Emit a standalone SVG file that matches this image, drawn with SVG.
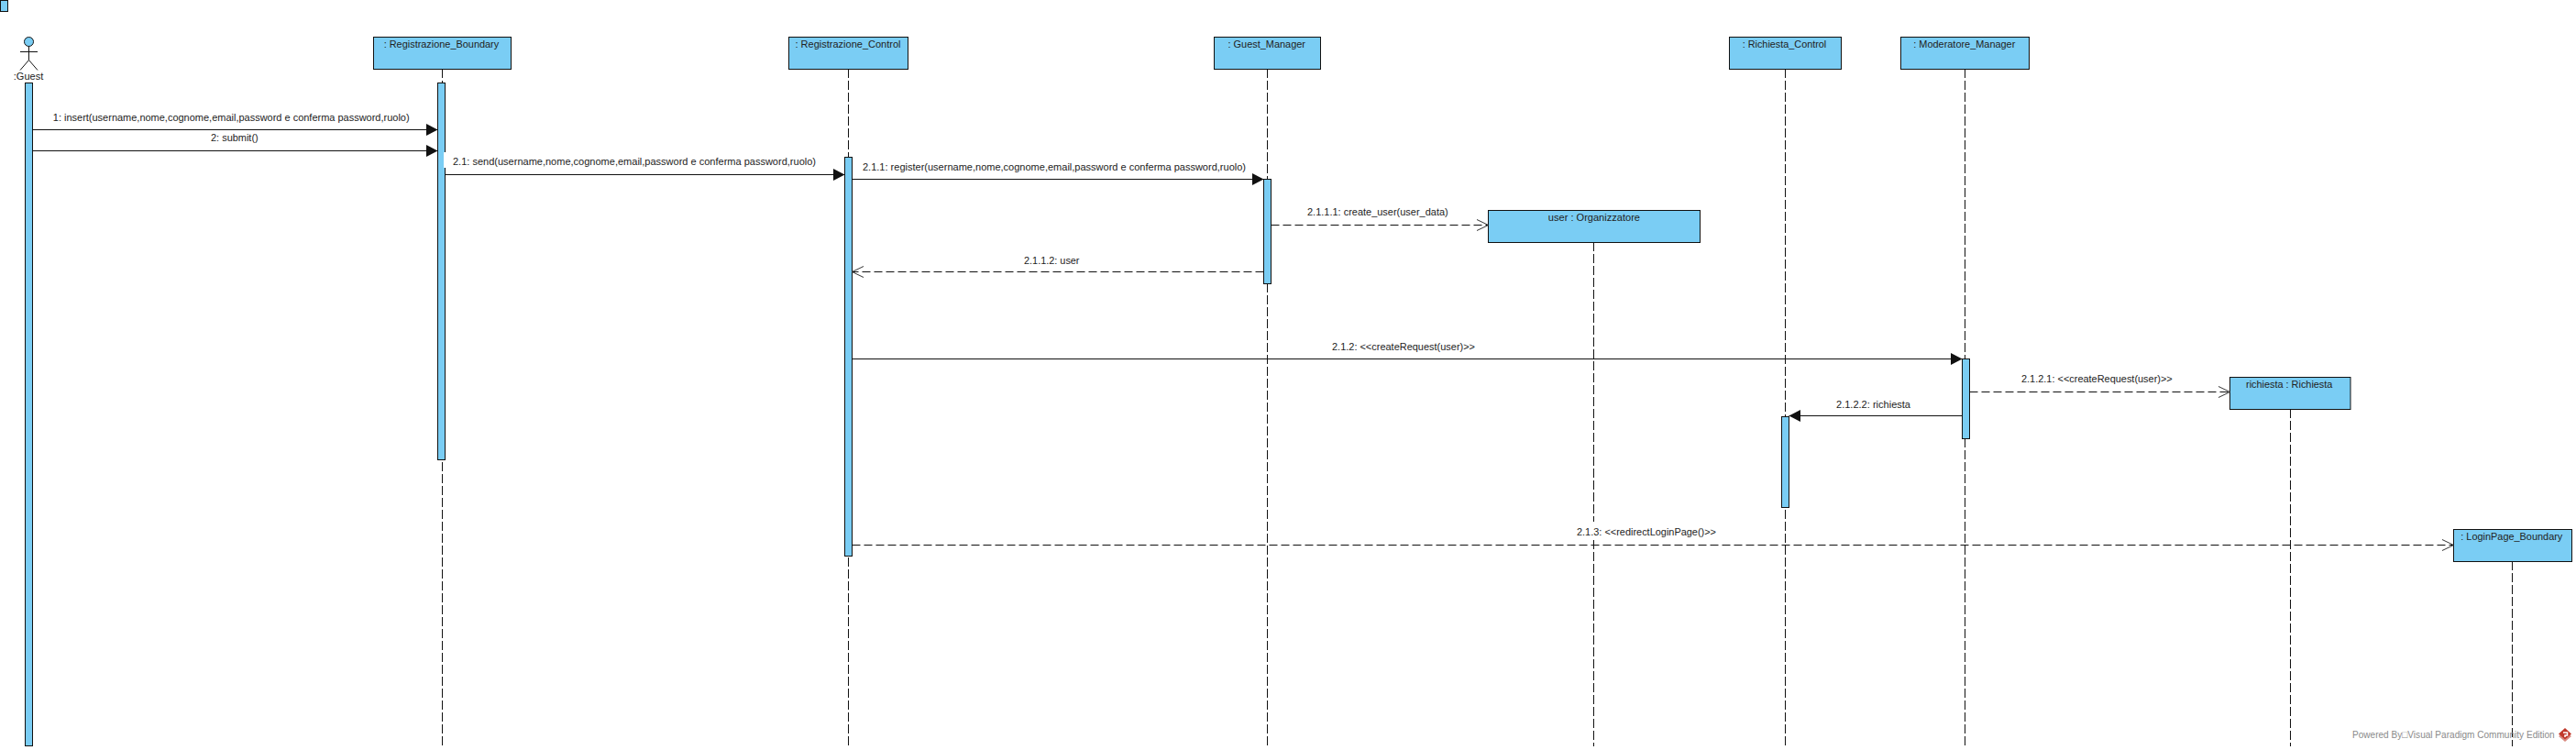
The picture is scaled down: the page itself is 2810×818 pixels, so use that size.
<svg xmlns="http://www.w3.org/2000/svg" width="2810" height="818" viewBox="0 0 2810 818">
<style>
text{font-family:"Liberation Sans",Arial,sans-serif;font-size:11px;fill:#222}
.n{text-anchor:middle}
.box{fill:#7acdf4;stroke:#111;stroke-width:1}
.life{stroke:#111;stroke-width:1;stroke-dasharray:10 3;fill:none}
.msg{stroke:#111;stroke-width:1;fill:none}
.dash{stroke:#111;stroke-width:1;stroke-dasharray:9 4;fill:none}
.act{stroke:#111;stroke-width:1;fill:none}
.foot{fill:#8a8a8a;font-size:11px}
</style>
<defs>
<marker id="fill" markerUnits="userSpaceOnUse" markerWidth="14" markerHeight="14" refX="13" refY="7" orient="auto"><path d="M0.5 0.5L13 7L0.5 13.5Z" fill="#111"/></marker>
<marker id="open" markerUnits="userSpaceOnUse" markerWidth="14" markerHeight="14" refX="13" refY="7" orient="auto"><path d="M0.5 1L13 7L0.5 13" fill="none" stroke="#333" stroke-width="1"/></marker>
</defs>
<rect width="2810" height="818" fill="#fff"/>
<rect id="frame-marker" class="box" x="0.5" y="0.5" width="8" height="12"/>
<g id="lifelines">
<path class="life" d="M482.5 75V814"/>
<path class="life" d="M925.5 75V814"/>
<path class="life" d="M1382.5 75V814"/>
<path class="life" d="M1738.5 264V814"/>
<path class="life" d="M1947.5 75V814"/>
<path class="life" d="M2143.5 75V814"/>
<path class="life" d="M2498.5 446V814"/>
<path class="life" d="M2740.5 612V814"/>
</g>
<g id="guest">
<circle class="box" cx="31.5" cy="45.5" r="5"/>
<path class="act" d="M31.5 50.5V65.5M22 56.5H41M22 76.5L31.5 65.5L41 76.5"/>
<text class="n" x="31" y="87">:Guest</text>
<rect class="box" x="27.5" y="90.5" width="8" height="723"/>
</g>
<g id="registrazione-boundary">
<rect class="box" x="407.5" y="40.5" width="150" height="35"/>
<text x="418.7" y="52" textLength="125.5" lengthAdjust="spacingAndGlyphs">: Registrazione_Boundary</text>
<rect class="box" x="477.5" y="90.5" width="8" height="411"/>
</g>
<g id="registrazione-control">
<rect class="box" x="860.5" y="40.5" width="130" height="35"/>
<text x="867.5" y="52" textLength="115" lengthAdjust="spacingAndGlyphs">: Registrazione_Control</text>
<rect class="box" x="921.5" y="171.5" width="8" height="435"/>
</g>
<g id="guest-manager">
<rect class="box" x="1324.5" y="40.5" width="116" height="35"/>
<text x="1339.5" y="52" textLength="84.5" lengthAdjust="spacingAndGlyphs">: Guest_Manager</text>
<rect class="box" x="1378.5" y="195.5" width="8" height="114"/>
</g>
<g id="user-organizzatore">
<rect class="box" x="1623.5" y="229.5" width="231" height="35"/>
<text x="1688.8" y="241" textLength="100.2" lengthAdjust="spacingAndGlyphs">user : Organizzatore</text>
</g>
<g id="richiesta-control">
<rect class="box" x="1886.5" y="40.5" width="122" height="35"/>
<text x="1900.7" y="52" textLength="91.6" lengthAdjust="spacingAndGlyphs">: Richiesta_Control</text>
<rect class="box" x="1943.5" y="454.5" width="8" height="99"/>
</g>
<g id="moderatore-manager">
<rect class="box" x="2073.5" y="40.5" width="140" height="35"/>
<text x="2087.3" y="52" textLength="111" lengthAdjust="spacingAndGlyphs">: Moderatore_Manager</text>
<rect class="box" x="2140.5" y="391.5" width="8" height="87"/>
</g>
<g id="richiesta">
<rect class="box" x="2432.5" y="411.5" width="131.5" height="35"/>
<text x="2450" y="423" textLength="94.4" lengthAdjust="spacingAndGlyphs">richiesta : Richiesta</text>
</g>
<g id="loginpage-boundary">
<rect class="box" x="2676.5" y="577.5" width="129" height="35"/>
<text x="2684.3" y="589" textLength="111" lengthAdjust="spacingAndGlyphs">: LoginPage_Boundary</text>
</g>
<g id="connectors">
<path class="msg" marker-end="url(#fill)" d="M35.5 141.5H477.5"/>
<path class="msg" marker-end="url(#fill)" d="M35.5 164.5H477.5"/>
<path class="msg" marker-end="url(#fill)" d="M485.5 190.5H921.5"/>
<path class="msg" marker-end="url(#fill)" d="M929.5 195.5H1378.5"/>
<path class="dash" marker-end="url(#open)" d="M1386.5 245.5H1623.5"/>
<path class="dash" marker-end="url(#open)" d="M1378.5 296.5H929.5"/>
<path class="msg" marker-end="url(#fill)" d="M929.5 391.5H2140.5"/>
<path class="dash" marker-end="url(#open)" d="M2148.5 427.5H2432.5"/>
<path class="msg" marker-end="url(#fill)" d="M2140.5 453.5H1951.5"/>
<path class="dash" marker-end="url(#open)" d="M929.5 594.5H2676.5"/>
</g>
<g id="labels">
<text x="57.8" y="132" textLength="388.8" lengthAdjust="spacingAndGlyphs">1: insert(username,nome,cognome,email,password e conferma password,ruolo)</text>
<text x="230" y="154" textLength="51.7" lengthAdjust="spacingAndGlyphs">2: submit()</text>
<rect x="484" y="166" width="2" height="17" fill="#fff"/>
<text x="494" y="179.5" textLength="396" lengthAdjust="spacingAndGlyphs">2.1: send(username,nome,cognome,email,password e conferma password,ruolo)</text>
<text x="941" y="186" textLength="418" lengthAdjust="spacingAndGlyphs">2.1.1: register(username,nome,cognome,email,password e conferma password,ruolo)</text>
<text x="1426" y="235" textLength="153.7" lengthAdjust="spacingAndGlyphs">2.1.1.1: create_user(user_data)</text>
<text x="1117" y="288" textLength="60.5" lengthAdjust="spacingAndGlyphs">2.1.1.2: user</text>
<text x="1453" y="382.3" textLength="156" lengthAdjust="spacingAndGlyphs">2.1.2: &lt;&lt;createRequest(user)&gt;&gt;</text>
<text x="2205" y="417.3" textLength="164.7" lengthAdjust="spacingAndGlyphs">2.1.2.1: &lt;&lt;createRequest(user)&gt;&gt;</text>
<text x="2003" y="445" textLength="81" lengthAdjust="spacingAndGlyphs">2.1.2.2: richiesta</text>
<rect x="1718" y="569" width="156" height="18" fill="#fff"/>
<text x="1720" y="584" textLength="152" lengthAdjust="spacingAndGlyphs">2.1.3: &lt;&lt;redirectLoginPage()&gt;&gt;</text>
</g>
<g id="footer">
<text class="foot" x="2566" y="805" textLength="220.7" lengthAdjust="spacingAndGlyphs">Powered By□Visual Paradigm Community Edition</text>
<path d="M2791 803L2798 809L2805 803L2798 798Z" fill="#d98a80"/>
<path d="M2798 794L2805 800.5L2798 806.5L2791 800.5Z" fill="#c0392b"/>
<path d="M2796 799H2800.5V802H2798V804" fill="none" stroke="#fff" stroke-width="1.5"/>
</g>
</svg>
